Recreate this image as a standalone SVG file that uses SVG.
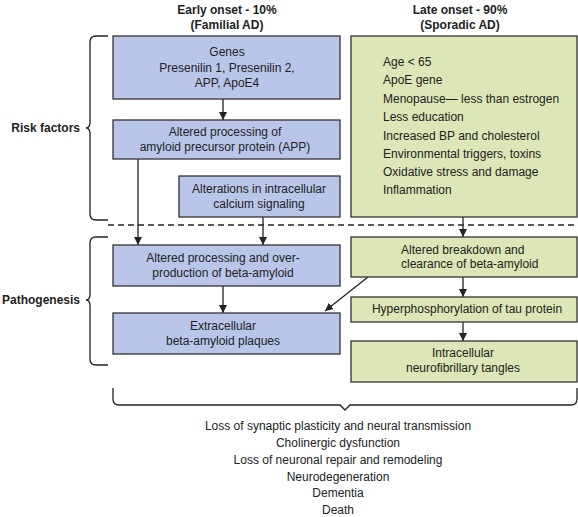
<svg xmlns="http://www.w3.org/2000/svg" width="578" height="517" viewBox="0 0 578 517">
<defs>
<marker id="ah" viewBox="0 0 10 10" refX="10" refY="5" markerWidth="8" markerHeight="8" markerUnits="userSpaceOnUse" orient="auto">
<path d="M0,0 L10,5 L0,10 z" fill="#222"/>
</marker>
<style>
text{font-family:"Liberation Sans",Arial,sans-serif;font-size:12px;fill:#222}
.b{font-weight:bold}
.c{text-anchor:middle}
.blue{fill:#b9c6ea;stroke:#333;stroke-width:1.3}
.green{fill:#dce6b6;stroke:#333;stroke-width:1.3}
.ln{stroke:#222;stroke-width:1.3;fill:none}
.br{stroke:#222;stroke-width:1.3;fill:none}
</style>
</defs>
<rect width="578" height="517" fill="#fff"/>
<g id="headers">
<text class="b c" x="227" y="14">Early onset - 10%</text>
<text class="b c" x="227" y="29">(Familial AD)</text>
<text class="b c" x="460" y="14">Late onset - 90%</text>
<text class="b c" x="460" y="29">(Sporadic AD)</text>
</g>
<g id="braces">
<path class="br" d="M108,36 H96 Q90,36 90,42 V122 Q90,128 86,128 Q90,128 90,134 V214 Q90,220 96,220 H108"/>
<text class="b" x="80" y="132" text-anchor="end">Risk factors</text>
<path class="br" d="M108,237 H96 Q90,237 90,243 V294 Q90,300 86,300 Q90,300 90,306 V359 Q90,365 96,365 H108"/>
<text class="b" x="80" y="304" text-anchor="end">Pathogenesis</text>
<path class="br" d="M113,388 V399 Q113,405 119,405 H340 L345,410 L350,405 H571 Q577,405 577,399 V388"/>
</g>
<line id="divider" x1="108" y1="225" x2="578" y2="225" stroke="#222" stroke-width="1.3" stroke-dasharray="6,4"/>
<g id="connectors">
<line class="ln" x1="223" y1="99" x2="223" y2="120" marker-end="url(#ah)"/>
<line class="ln" x1="138" y1="159" x2="138" y2="245" marker-end="url(#ah)"/>
<line class="ln" x1="263" y1="217" x2="263" y2="245" marker-end="url(#ah)"/>
<line class="ln" x1="223" y1="286" x2="223" y2="313" marker-end="url(#ah)"/>
<line class="ln" x1="463" y1="217" x2="463" y2="237" marker-end="url(#ah)"/>
<line class="ln" x1="463" y1="277" x2="463" y2="297" marker-end="url(#ah)"/>
<line class="ln" x1="463" y1="322" x2="463" y2="341" marker-end="url(#ah)"/>
<line class="ln" x1="368" y1="277" x2="325" y2="311" marker-end="url(#ah)"/>
</g>
<g id="genes">
<rect class="blue" x="113" y="36" width="227" height="63"/>
<text class="c" x="227" y="56">Genes</text>
<text class="c" x="227" y="72">Presenilin 1, Presenilin 2,</text>
<text class="c" x="227" y="87">APP,  ApoE4</text>
</g>
<g id="app">
<rect class="blue" x="113" y="120" width="227" height="39"/>
<text class="c" x="225" y="136">Altered processing of</text>
<text class="c" x="225" y="151">amyloid precursor protein (APP)</text>
</g>
<g id="calcium">
<rect class="blue" x="179" y="176" width="161" height="41"/>
<text class="c" x="259" y="193">Alterations in intracellular</text>
<text class="c" x="259" y="208">calcium signaling</text>
</g>
<g id="overproduction">
<rect class="blue" x="113" y="245" width="227" height="41"/>
<text class="c" x="223" y="262">Altered processing and over-</text>
<text class="c" x="223" y="277">production of beta-amyloid</text>
</g>
<g id="plaques">
<rect class="blue" x="113" y="313" width="227" height="41"/>
<text class="c" x="223" y="330">Extracellular</text>
<text class="c" x="223" y="345">beta-amyloid plaques</text>
</g>
<g id="sporadic">
<rect class="green" x="351" y="36" width="226" height="181"/>
<text x="383" y="66">Age &lt; 65</text>
<text x="383" y="84">ApoE gene</text>
<text x="383" y="103">Menopause— less than estrogen</text>
<text x="383" y="121">Less education</text>
<text x="383" y="140">Increased BP and cholesterol</text>
<text x="383" y="158">Environmental triggers, toxins</text>
<text x="383" y="176">Oxidative stress and damage</text>
<text x="383" y="194">Inflammation</text>
</g>
<g id="clearance">
<rect class="green" x="351" y="237" width="226" height="40"/>
<text x="401" y="254">Altered breakdown and</text>
<text x="401" y="268">clearance of beta-amyloid</text>
</g>
<g id="tau">
<rect class="green" x="351" y="297" width="226" height="25"/>
<text class="c" x="467" y="313">Hyperphosphorylation of tau protein</text>
</g>
<g id="tangles">
<rect class="green" x="351" y="341" width="226" height="41"/>
<text class="c" x="463" y="357">Intracellular</text>
<text class="c" x="463" y="372">neurofibrillary tangles</text>
</g>
<g id="outcomes">
<text class="c" x="338" y="430">Loss of synaptic plasticity and neural transmission</text>
<text class="c" x="338" y="447">Cholinergic dysfunction</text>
<text class="c" x="338" y="464">Loss of neuronal repair and remodeling</text>
<text class="c" x="338" y="481">Neurodegeneration</text>
<text class="c" x="338" y="497">Dementia</text>
<text class="c" x="338" y="514">Death</text>
</g>
</svg>
